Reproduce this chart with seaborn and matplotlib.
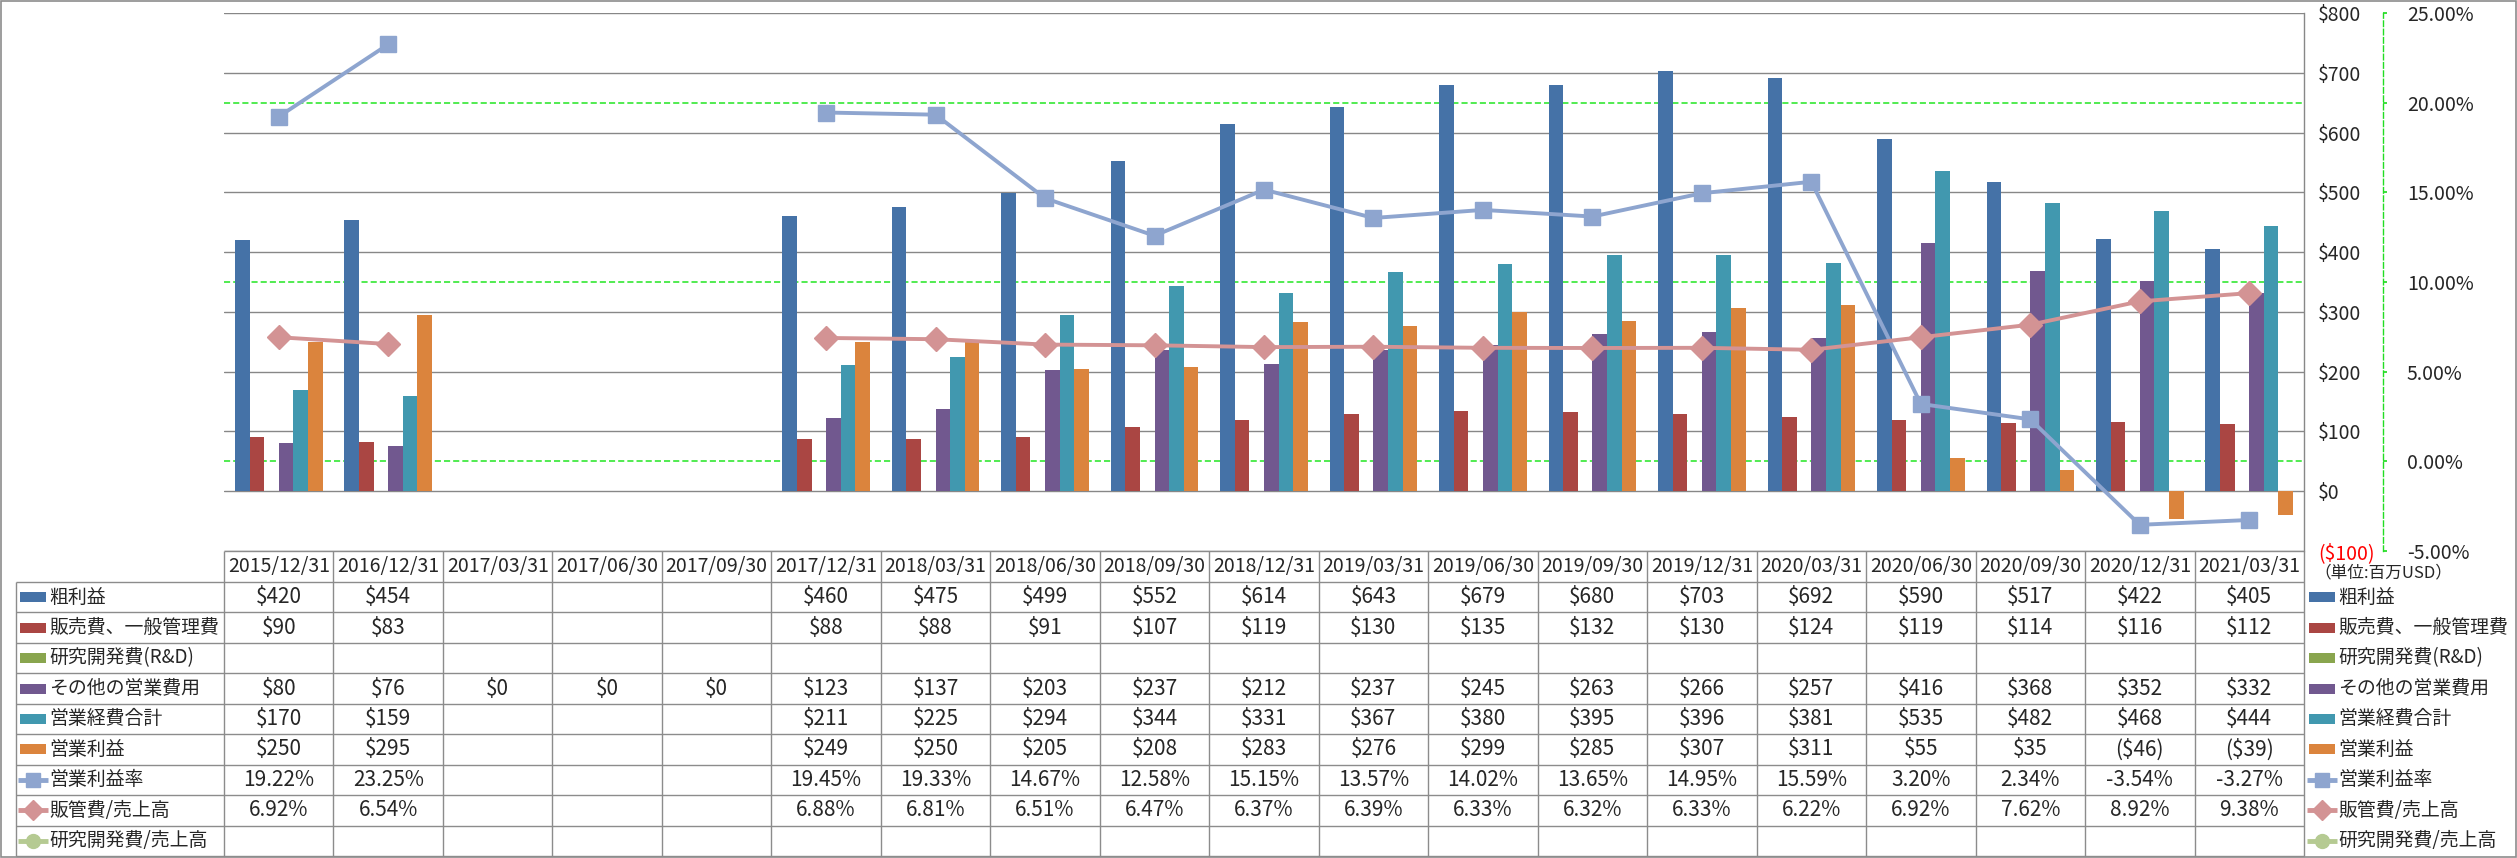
import numpy as np
import pandas as pd
import seaborn as sns
import matplotlib.pyplot as plt
from matplotlib.patches import Rectangle
from matplotlib.transforms import blended_transform_factory

nan = np.nan

# データ (単位: 百万USD)
dates = ['2015/12/31', '2016/12/31', '2017/03/31', '2017/06/30', '2017/09/30',
         '2017/12/31', '2018/03/31', '2018/06/30', '2018/09/30', '2018/12/31',
         '2019/03/31', '2019/06/30', '2019/09/30', '2019/12/31', '2020/03/31',
         '2020/06/30', '2020/09/30', '2020/12/31', '2021/03/31']

gross_profit = [420, 454, nan, nan, nan, 460, 475, 499, 552, 614, 643, 679, 680, 703, 692, 590, 517, 422, 405]
sga = [90, 83, nan, nan, nan, 88, 88, 91, 107, 119, 130, 135, 132, 130, 124, 119, 114, 116, 112]
rnd = [nan, nan, nan, nan, nan, nan, nan, nan, nan, nan, nan, nan, nan, nan, nan, nan, nan, nan, nan]
other_opex = [80, 76, 0, 0, 0, 123, 137, 203, 237, 212, 237, 245, 263, 266, 257, 416, 368, 352, 332]
total_opex = [170, 159, nan, nan, nan, 211, 225, 294, 344, 331, 367, 380, 395, 396, 381, 535, 482, 468, 444]
op_income = [250, 295, nan, nan, nan, 249, 250, 205, 208, 283, 276, 299, 285, 307, 311, 55, 35, -46, -39]

op_margin = [19.22, 23.25, nan, nan, nan, 19.45, 19.33, 14.67, 12.58, 15.15, 13.57, 14.02, 13.65, 14.95, 15.59, 3.20, 2.34, -3.54, -3.27]
sga_ratio = [6.92, 6.54, nan, nan, nan, 6.88, 6.81, 6.51, 6.47, 6.37, 6.39, 6.33, 6.32, 6.33, 6.22, 6.92, 7.62, 8.92, 9.38]
rnd_ratio = [nan, nan, nan, nan, nan, nan, nan, nan, nan, nan, nan, nan, nan, nan, nan, nan, nan, nan, nan]

bar_names = ['粗利益', '販売費、一般管理費', '研究開発費(R&D)', 'その他の営業費用', '営業経費合計', '営業利益']
bar_values = [gross_profit, sga, rnd, other_opex, total_opex, op_income]
bar_colors = ['#4572A7', '#AA4643', '#89A54E', '#71588F', '#4198AF', '#DB843D']

line_names = ['営業利益率', '販管費/売上高', '研究開発費/売上高']
line_values = [op_margin, sga_ratio, rnd_ratio]
line_colors = ['#8EA5CF', '#D39394', '#B5CA92']
line_markers = ['s', 'D', 'o']

usd_ticks = [-100, 0, 100, 200, 300, 400, 500, 600, 700, 800]
pct_ticks = [-5, 0, 5, 10, 15, 20, 25]
pct_grid = [0, 10, 20]

# レイアウト (ピクセル)
W, H = 2517, 858
PL, PR, PT, PB = 224, 2304, 13, 551
HEAD_B = 582
TAB_B = 856
ROW_H = (TAB_B - HEAD_B) / 9

sns.set_theme(style='white')
plt.rcParams['font.family'] = ['Noto Sans CJK JP', 'DejaVu Sans']

# 棒グラフ用のロングフォーマット
rows = []
for name, vals in zip(bar_names, bar_values):
    for d, v in zip(dates, vals):
        rows.append({'date': d, 'series': name, 'value': v})
bar_df = pd.DataFrame(rows)

fig = plt.figure(figsize=(W / 100, H / 100), dpi=100)
ax = fig.add_axes([PL / W, 1 - PB / H, (PR - PL) / W, (PB - PT) / H])

sns.barplot(data=bar_df, x='date', y='value', hue='series', order=dates,
            hue_order=bar_names, palette=dict(zip(bar_names, bar_colors)),
            saturation=1, width=0.8, errorbar=None, legend=False,
            linewidth=0, ax=ax, zorder=2)

# 右側の%軸 (twinx は元の軸の目盛りを左に戻すので先に作る)
ax2 = ax.twinx()

ax.set_xlim(-0.5, len(dates) - 0.5)
ax.set_ylim(-100, 800)
ax.set_xticks([])
ax.set_xlabel('')
ax.set_ylabel('')
ax.set_yticks(usd_ticks)
ax.set_yticklabels([f'(${-v})' if v < 0 else f'${v}' for v in usd_ticks])
ax.yaxis.tick_right()
ax.tick_params(axis='y', which='both', left=False, right=True, labelleft=False,
               labelright=True, length=0, pad=10, labelsize=14)
for lbl, v in zip(ax.get_yticklabels(which='both'), usd_ticks):
    if v < 0:
        lbl.set_color('red')
ax.yaxis.grid(True, color='#878787', linewidth=1.0)
ax.set_axisbelow(True)
for s in ['left', 'top', 'bottom']:
    ax.spines[s].set_visible(False)
ax.spines['right'].set_color('#878787')
ax.spines['right'].set_linewidth(1.0)

for name, vals, col, mk in zip(line_names, line_values, line_colors, line_markers):
    d = pd.DataFrame({'pos': np.arange(len(dates)), 'value': vals})
    d['seg'] = d['value'].isna().cumsum()
    d = d.dropna()
    if d.empty:
        continue
    sns.lineplot(data=d, x='pos', y='value', units='seg', estimator=None,
                 color=col, marker=mk, markersize=12, markeredgecolor=col,
                 markeredgewidth=1, linewidth=2.8, legend=False, ax=ax2)

ax2.set_xlim(-0.5, len(dates) - 0.5)
ax2.set_ylim(-5, 25)
ax2.set_yticks(pct_ticks)
ax2.set_yticklabels([f'{v:.2f}%' for v in pct_ticks])
for lbl, v in zip(ax2.get_yticklabels(), pct_ticks):
    if v < 0:
        lbl.set_color('red')
ax2.set_xlabel('')
ax2.set_ylabel('')
ax2.grid(False)
for s in ['left', 'top', 'bottom']:
    ax2.spines[s].set_visible(False)
ax2.spines['right'].set_position(('outward', 57))
ax2.spines['right'].set_color('#22DD22')
ax2.spines['right'].set_linestyle((0, (4, 2)))
ax2.spines['right'].set_linewidth(1.0)
ax2.tick_params(axis='y', direction='out', length=3, color='#22DD22', pad=14, labelsize=14)

# %軸の補助線 (緑の破線)
trans = blended_transform_factory(ax.transAxes, ax2.transData)
for p in pct_grid:
    ax.plot([0, 1], [p, p], transform=trans, color='#22E622', linewidth=1.1,
            linestyle=(0, (4, 2)), zorder=0.6)

# データテーブル
tab = fig.add_axes([0, 0, 1, 1])
tab.set_xlim(0, W)
tab.set_ylim(H, 0)
tab.axis('off')
tab.patch.set_visible(False)

col_w = (PR - PL) / len(dates)
edges = [PL + i * col_w for i in range(len(dates) + 1)]
row_edges = [HEAD_B + i * ROW_H for i in range(10)]
grid_col = '#8C8C8C'
tab.hlines(PB, PL, PR, color=grid_col, linewidth=1.0)
tab.hlines(row_edges, 16, PR, color=grid_col, linewidth=1.0)
tab.vlines(edges, PB, TAB_B, color=grid_col, linewidth=1.0)
tab.vlines(16, HEAD_B, TAB_B, color=grid_col, linewidth=1.0)
tab.add_patch(Rectangle((1, 1), W - 2, H - 2, fill=False, edgecolor='#8C8C8C', linewidth=1.2))

for i, d in enumerate(dates):
    tab.text(edges[i] + col_w / 2, (PB + HEAD_B) / 2, d, ha='center', va='center', fontsize=14)


def fmt_usd(v):
    if np.isnan(v):
        return ''
    return f'(${-v:.0f})' if v < 0 else f'${v:.0f}'


def fmt_pct(v):
    if np.isnan(v):
        return ''
    return f'{v:.2f}%'


table_rows = [(n, v, fmt_usd) for n, v in zip(bar_names, bar_values)] + \
             [(n, v, fmt_pct) for n, v in zip(line_names, line_values)]

for r, (name, vals, fmt) in enumerate(table_rows):
    yc = HEAD_B + (r + 0.5) * ROW_H
    for i, v in enumerate(vals):
        tab.text(edges[i] + col_w / 2, yc, fmt(v), ha='center', va='center', fontsize=15)


def legend_key(x, yc, r):
    if r < len(bar_names):
        tab.add_patch(Rectangle((x, yc - 5), 26, 10, color=bar_colors[r], linewidth=0))
    else:
        k = r - len(bar_names)
        tab.plot([x - 2, x + 28], [yc, yc], color=line_colors[k], linewidth=3.5,
                 solid_capstyle='butt')
        tab.plot([x + 13], [yc], marker=line_markers[k], markersize=10,
                 color=line_colors[k], linestyle='none')


for r, (name, vals, fmt) in enumerate(table_rows):
    yc = HEAD_B + (r + 0.5) * ROW_H
    legend_key(20, yc, r)
    tab.text(49, yc, name, ha='left', va='center', fontsize=13.6)
    legend_key(2309, yc, r)
    tab.text(2338, yc, name, ha='left', va='center', fontsize=13.6)

tab.text(2314, 573, '（単位:百万USD）', ha='left', va='center', fontsize=12)

fig.savefig('out.png', dpi=100)
